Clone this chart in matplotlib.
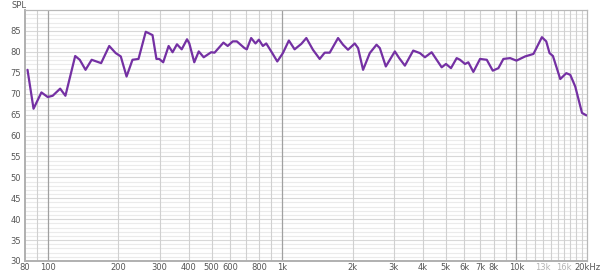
#!/usr/bin/env python3

"""
frequency response plot: SPL vs frequency on a log axis, REW style
"""

import numpy as np
import matplotlib
matplotlib.use("Agg")
import matplotlib.pyplot as plt

freq = [82, 87, 94, 100, 105, 113, 119, 131, 137, 145, 154, 169, 183, 195, 205,
        217, 230, 244, 262, 271, 280, 291, 299, 311, 328, 341, 356, 373, 393, 402,
        422, 441, 463, 498, 515, 562, 586, 616, 641, 691, 707, 738, 770, 796, 828,
        856, 908, 954, 1008, 1069, 1131, 1208, 1269, 1354, 1447, 1520, 1597, 1733,
        1820, 1911, 2042, 2110, 2216, 2367, 2529, 2612, 2771, 3028, 3160, 3342,
        3627, 3873, 4069, 4346, 4566, 4797, 5004, 5256, 5559, 5743, 6033, 6233,
        6548, 6994, 7471, 7925, 8375, 8796, 9398, 10000, 10890, 11820, 12840,
        13400, 13840, 14310, 15380, 16320, 16970, 17820, 19040, 19900]
spl = [75.7, 66.4, 70.3, 69.2, 69.5, 71.2, 69.5, 79.0, 78.1, 75.7, 78.1, 77.3,
       81.4, 79.7, 78.9, 74.1, 78.1, 78.3, 84.8, 84.4, 84.0, 78.3, 78.3, 77.5,
       81.4, 79.9, 81.8, 80.6, 83.0, 82.0, 77.5, 80.1, 78.7, 79.9, 79.8, 82.2,
       81.4, 82.5, 82.5, 80.9, 80.6, 83.3, 82.0, 82.9, 81.4, 82.0, 79.7, 77.7,
       79.7, 82.7, 80.6, 81.9, 83.3, 80.5, 78.3, 79.8, 79.8, 83.3, 81.7, 80.5,
       82.0, 80.9, 75.7, 79.7, 81.7, 80.9, 76.5, 80.1, 78.5, 76.7, 80.3, 79.7,
       78.7, 79.9, 78.1, 76.3, 77.1, 76.1, 78.5, 78.1, 77.1, 77.5, 75.2, 78.3,
       78.1, 75.5, 76.1, 78.3, 78.5, 77.9, 78.9, 79.5, 83.5, 82.5, 79.7, 79.0,
       73.5, 74.9, 74.5, 71.7, 65.4, 64.8]

x_ticks = [80, 100, 200, 300, 400, 500, 600, 800, 1000, 2000, 3000, 4000, 5000,
           6000, 7000, 8000, 10000, 13000, 16000, 20000]
x_labels = ["80", "100", "200", "300", "400", "500", "600", "800", "1k", "2k",
            "3k", "4k", "5k", "6k", "7k", "8k", "10k", "13k", "16k", "20kHz"]
faint_labels = ["13k", "16k"]
y_ticks = list(range(30, 90, 5))

# grid line positions
major_lines = [100, 1000, 10000]
minor_lines = ([90] + [k * 100 for k in range(2, 10)] + [k * 1000 for k in range(2, 10)]
               + [k * 1000 for k in range(11, 20)])

fig = plt.figure(figsize=(6.0, 2.74), dpi=100)
ax = fig.add_axes([25 / 600, 13 / 274, 562 / 600, 251 / 274])
ax.set_xscale("log")
ax.set_xlim(80, 20000)
ax.set_ylim(30, 90)

# horizontal grid: every dB faint, every 5 dB a bit stronger
for db in range(31, 90):
    col = "#d8d8d8" if db % 5 == 0 else "#ebebeb"
    ax.axhline(db, color=col, lw=0.8, zorder=0)
for f in minor_lines:
    ax.axvline(f, color="#d0d0d0", lw=0.8, zorder=0)
for f in major_lines:
    ax.axvline(f, color="#a0a0a0", lw=0.9, zorder=0)

ax.plot(freq, spl, color="#7430a3", lw=1.6, solid_joinstyle="round",
        solid_capstyle="round", zorder=3)

ax.set_xticks(x_ticks)
ax.set_xticklabels(x_labels)
ax.xaxis.set_minor_locator(matplotlib.ticker.NullLocator())
ax.set_yticks(y_ticks)
ax.tick_params(axis="both", length=0, labelsize=6, colors="#555555")
ax.tick_params(axis="y", pad=3)
ax.tick_params(axis="x", pad=1.5)
for lab in ax.get_xticklabels():
    lab.set_color("#b4b4b4" if lab.get_text() in faint_labels else "#555555")

for side in ["top", "right"]:
    ax.spines[side].set_color("#b8b8b8")
    ax.spines[side].set_linewidth(0.9)
for side in ["left", "bottom"]:
    ax.spines[side].set_color("#b0b0b0")
    ax.spines[side].set_linewidth(1.4)

fig.text(12 / 600, 1 - 6 / 274, "SPL", fontsize=6, color="#555555", va="center")

fig.savefig("out.png", dpi=100)
